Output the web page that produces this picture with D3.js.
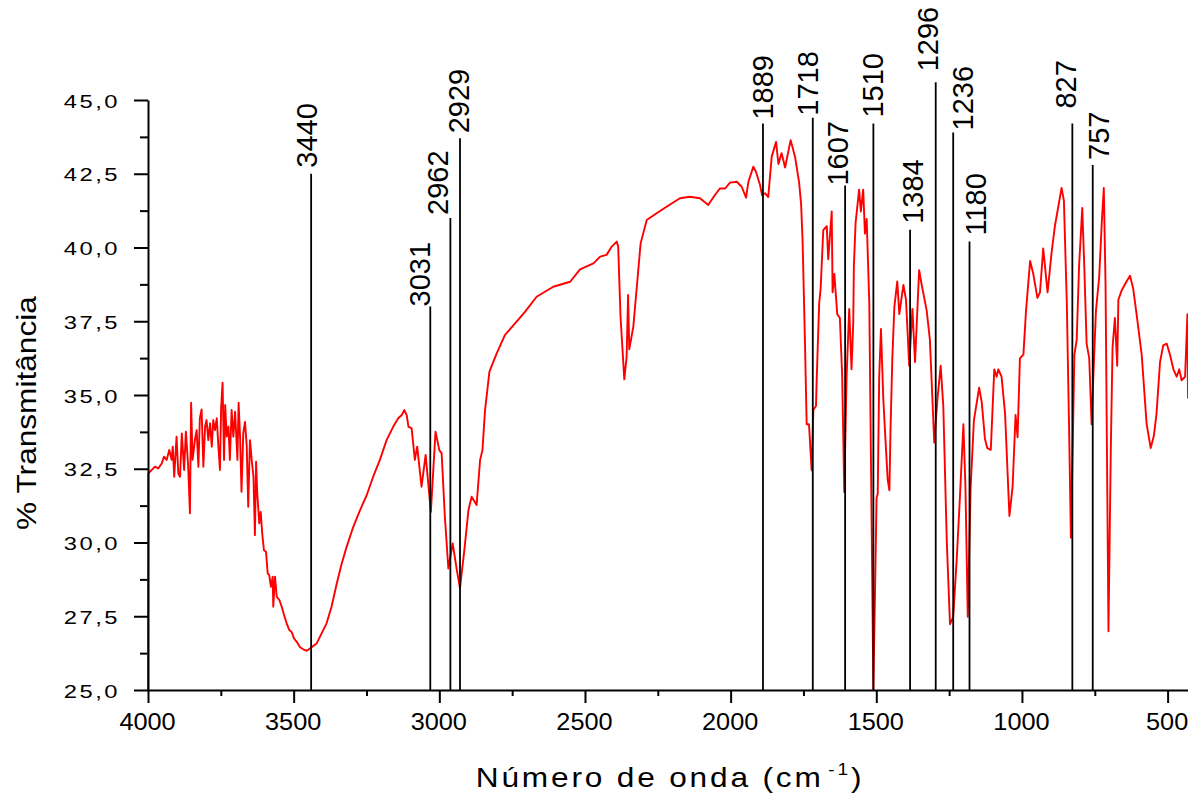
<!DOCTYPE html>
<html>
<head>
<meta charset="utf-8">
<script src="https://cdn.jsdelivr.net/npm/d3@7"></script>
<style>
  html, body { margin: 0; padding: 0; background: #fff; }
  svg { display: block; }
  text { font-family: "Liberation Sans", Arial, sans-serif; fill: #000; }
</style>
</head>
<body>
<svg id="chart" width="1188" height="794"></svg>
<script>
// FTIR spectrum: [wavenumber (cm-1), transmittance (%)]
const spectrum = [
  [4000, 25.0], [3999, 32.34], [3987, 32.46], [3976, 32.57], [3965, 32.51], [3953, 32.68],
  [3945, 32.91], [3936, 32.80], [3927, 33.14], [3919, 32.80], [3915, 33.25], [3910, 32.23],
  [3902, 33.59], [3896, 32.34], [3890, 32.23], [3884, 33.70], [3876, 32.46], [3870, 33.76],
  [3862, 32.57], [3856, 30.99], [3852, 34.74], [3847, 32.80], [3839, 33.47], [3833, 33.81],
  [3827, 32.57], [3822, 34.21], [3816, 34.51], [3810, 32.57], [3804, 33.93], [3799, 34.15],
  [3793, 33.47], [3787, 34.04], [3781, 33.25], [3776, 34.15], [3770, 33.81], [3764, 34.21],
  [3759, 33.36], [3753, 32.46], [3749, 34.55], [3744, 35.42], [3739, 32.80], [3735, 34.66],
  [3730, 33.59], [3724, 33.93], [3719, 32.80], [3713, 34.49], [3707, 33.59], [3701, 34.43],
  [3693, 32.80], [3689, 34.74], [3684, 33.59], [3679, 31.72], [3673, 33.70], [3667, 34.09],
  [3661, 33.25], [3656, 31.21], [3650, 33.47], [3644, 32.80], [3638, 32.23], [3633, 30.25],
  [3629, 32.74], [3625, 31.67], [3618, 30.65], [3613, 31.04], [3608, 30.31], [3602, 29.74],
  [3595, 29.69], [3589, 28.95], [3584, 28.90], [3578, 28.50], [3572, 28.84], [3570, 27.82],
  [3564, 28.84], [3558, 28.16], [3549, 28.05], [3541, 27.82], [3533, 27.54], [3524, 27.26],
  [3515, 27.03], [3507, 26.97], [3499, 26.75], [3490, 26.64], [3478, 26.45], [3467, 26.38],
  [3455, 26.33], [3444, 26.41], [3433, 26.49], [3421, 26.58], [3404, 26.92], [3387, 27.26],
  [3370, 27.82], [3352, 28.61], [3335, 29.29], [3318, 29.86], [3295, 30.54], [3272, 31.10],
  [3249, 31.61], [3227, 32.23], [3204, 32.80], [3181, 33.47], [3158, 33.93], [3141, 34.21],
  [3129, 34.32], [3120, 34.49], [3112, 34.32], [3106, 33.93], [3095, 33.87], [3084, 32.80],
  [3076, 33.25], [3061, 31.89], [3047, 32.97], [3029, 31.04], [3013, 33.76], [3000, 33.13],
  [2992, 33.02], [2981, 30.88], [2969, 29.12], [2954, 29.97], [2940, 29.07], [2929, 28.45],
  [2914, 29.75], [2900, 31.10], [2889, 31.55], [2872, 31.27], [2860, 32.80], [2852, 33.13],
  [2843, 34.49], [2828, 35.79], [2803, 36.41], [2775, 37.03], [2740, 37.43], [2706, 37.82],
  [2666, 38.33], [2609, 38.67], [2551, 38.84], [2517, 39.26], [2471, 39.46], [2448, 39.69],
  [2426, 39.75], [2408, 40.03], [2391, 40.20], [2386, 40.03], [2378, 37.66], [2365, 35.53],
  [2357, 36.30], [2352, 38.39], [2348, 36.55], [2334, 37.32], [2323, 38.56], [2309, 40.14],
  [2288, 40.93], [2254, 41.16], [2220, 41.38], [2174, 41.67], [2140, 41.72], [2105, 41.67],
  [2077, 41.44], [2054, 41.78], [2037, 42.00], [2019, 42.00], [2002, 42.20], [1979, 42.23],
  [1962, 42.06], [1947, 41.69], [1939, 42.23], [1922, 42.74], [1913, 42.57], [1899, 42.12],
  [1892, 41.77], [1882, 41.84], [1871, 41.71], [1859, 43.08], [1844, 43.58], [1836, 42.83],
  [1825, 43.20], [1813, 42.71], [1794, 43.64], [1779, 43.08], [1771, 42.58], [1765, 42.21],
  [1758, 41.46], [1753, 40.22], [1745, 36.86], [1739, 34.01], [1731, 34.01], [1722, 32.45],
  [1716, 34.50], [1707, 34.63], [1705, 35.37], [1701, 36.62], [1696, 38.11], [1691, 38.61],
  [1682, 40.59], [1670, 40.72], [1665, 39.60], [1653, 41.22], [1650, 38.48], [1644, 39.10],
  [1634, 37.74], [1625, 37.61], [1617, 35.62], [1610, 31.71], [1602, 35.62], [1593, 37.92],
  [1585, 35.87], [1579, 37.49], [1577, 39.35], [1571, 40.84], [1559, 41.96], [1553, 41.22],
  [1545, 41.96], [1539, 40.47], [1533, 40.97], [1524, 38.11], [1516, 30.65], [1510, 25.00],
  [1499, 31.52], [1495, 31.65], [1490, 35.62], [1484, 37.24], [1476, 34.88], [1470, 33.76],
  [1461, 32.14], [1455, 31.77], [1451, 33.88], [1445, 36.24], [1438, 37.98], [1428, 38.85],
  [1421, 37.74], [1407, 38.73], [1398, 38.23], [1387, 35.99], [1376, 37.92], [1367, 36.12],
  [1353, 39.23], [1344, 38.73], [1327, 37.86], [1316, 36.87], [1301, 33.39], [1290, 34.87],
  [1279, 35.99], [1270, 34.63], [1258, 30.03], [1247, 27.23], [1236, 27.48], [1224, 29.41],
  [1213, 31.52], [1201, 34.01], [1194, 31.90], [1186, 27.48], [1176, 31.90], [1165, 34.13],
  [1147, 35.25], [1138, 34.75], [1127, 33.51], [1119, 33.20], [1107, 33.14], [1095, 35.87],
  [1087, 35.62], [1081, 35.87], [1070, 35.62], [1058, 34.38], [1043, 30.90], [1032, 31.90],
  [1022, 34.32], [1015, 33.57], [1007, 36.24], [995, 36.37], [986, 37.86], [972, 39.54],
  [961, 39.10], [947, 38.29], [938, 38.48], [927, 39.97], [912, 38.48], [898, 39.85],
  [887, 40.72], [864, 42.02], [856, 41.59], [846, 38.11], [838, 33.76], [832, 30.16],
  [826, 33.14], [820, 36.37], [812, 36.87], [804, 39.35], [793, 41.34], [786, 39.35],
  [778, 36.74], [769, 36.24], [761, 34.01], [755, 35.62], [746, 37.86], [735, 38.98],
  [726, 40.84], [719, 42.02], [713, 38.73], [703, 26.99], [695, 33.14], [689, 36.62],
  [681, 37.61], [673, 35.99], [669, 38.23], [658, 38.54], [641, 38.85], [629, 39.04],
  [618, 38.60], [604, 37.55], [589, 36.37], [572, 34.01], [558, 33.20], [547, 33.63],
  [538, 34.38], [526, 36.12], [515, 36.68], [503, 36.74], [492, 36.37], [480, 35.87],
  [469, 35.62], [460, 35.87], [452, 35.50], [440, 35.62], [432, 37.74], [430, 34.88]
];

// Assigned bands and the transmittance reached by each marker line
const peakWavenumbers = [3440, 3031, 2962, 2929, 1889, 1718, 1607, 1510, 1384, 1296, 1236, 1180, 827, 757];
const peakLineTops    = [42.5, 38.0, 41.0, 43.7, 44.2, 44.4, 42.1, 44.2, 40.6, 45.6, 43.9, 40.2, 44.2, 42.8];

const xTickValues = [4000, 3500, 3000, 2500, 2000, 1500, 1000, 500];
const xMinorTicks = [3750, 3250, 2750, 2250, 1750, 1250, 750];
const yTickValues = [25, 27.5, 30, 32.5, 35, 37.5, 40, 42.5, 45];
const yMinorTicks = [26.25, 28.75, 31.25, 33.75, 36.25, 38.75, 41.25, 43.75];

const xLabel = "Número de onda (cm";
const yLabel = "% Transmitância";

// ---- layout ----
const svg = d3.select("#chart");
const plot = { left: 148, right: 1188, top: 100, bottom: 690 };

const x = d3.scaleLinear().domain([4000, 430]).range([plot.left, plot.right]);
const y = d3.scaleLinear().domain([25, 45]).range([plot.bottom, plot.top]);

const fmtY = v => d3.format(".1f")(v).replace(".", ",");

// minor ticks
svg.append("g")
  .attr("transform", `translate(0,${plot.bottom})`)
  .call(d3.axisBottom(x).tickValues(xMinorTicks).tickSize(6).tickSizeOuter(0).tickFormat(""))
  .call(g => g.select(".domain").remove())
  .call(g => g.selectAll("line").attr("stroke", "#000").attr("stroke-width", 2));

svg.append("g")
  .attr("transform", `translate(${plot.left},0)`)
  .call(d3.axisLeft(y).tickValues(yMinorTicks).tickSize(8).tickSizeOuter(0).tickFormat(""))
  .call(g => g.select(".domain").remove())
  .call(g => g.selectAll("line").attr("stroke", "#000").attr("stroke-width", 2));

// spectrum trace
const line = d3.line()
  .x(d => x(d[0]))
  .y(d => y(d[1]));

svg.append("path")
  .datum(spectrum)
  .attr("fill", "none")
  .attr("stroke", "#ff0000")
  .attr("stroke-width", 1.9)
  .attr("stroke-linejoin", "round")
  .attr("d", line);

// band marker lines with rotated labels (hand-placed nudges [dx, dy] in px)
const labelNudge = [
  [-5, -6], [-11, 0], [-13, -3], [-1, -5], [0, -4], [-5, -2], [-8, 0],
  [-1, -6], [3, -6], [-8, -11], [9, -2], [6, -6], [-7, -15], [6, -5]
];
const labelSize = 29;
const markers = svg.append("g");
peakWavenumbers.forEach((wn, i) => {
  const lx = x(wn);
  const top = y(peakLineTops[i]);
  markers.append("line")
    .attr("x1", lx).attr("x2", lx)
    .attr("y1", y(25)).attr("y2", top)
    .attr("stroke", "#000")
    .attr("stroke-width", 1.8);
  const [dx, dy] = labelNudge[i];
  markers.append("text")
    .attr("transform", `translate(${lx + dx + labelSize * 0.358},${top + dy}) rotate(-90)`)
    .attr("text-anchor", "start")
    .attr("font-size", labelSize)
    .text(wn);
});

// main axes
const xAxis = svg.append("g")
  .attr("transform", `translate(0,${plot.bottom})`)
  .call(d3.axisBottom(x).tickValues(xTickValues).tickSize(13).tickSizeOuter(0).tickFormat(d3.format("d")));
xAxis.select(".domain").attr("stroke", "#000").attr("stroke-width", 2);
xAxis.selectAll(".tick line").attr("stroke", "#000").attr("stroke-width", 2);
xAxis.selectAll(".tick text")
  .attr("y", 0).attr("dy", 0)
  .attr("transform", "translate(-1,40) scale(1.1,1)")
  .attr("font-size", 23)
  .attr("font-family", '"Liberation Sans", Arial, sans-serif')
  .attr("fill", "#000");

const yAxis = svg.append("g")
  .attr("transform", `translate(${plot.left},0)`)
  .call(d3.axisLeft(y).tickValues(yTickValues).tickSize(14).tickSizeOuter(0).tickFormat(fmtY));
yAxis.select(".domain").attr("stroke", "#000").attr("stroke-width", 2);
yAxis.selectAll(".tick line").attr("stroke", "#000").attr("stroke-width", 2);
yAxis.selectAll(".tick text")
  .attr("x", 0).attr("dy", 0)
  .attr("transform", "translate(-28,7) scale(1.25,1)")
  .attr("font-size", 19)
  .attr("letter-spacing", "2px")
  .attr("font-family", '"Liberation Sans", Arial, sans-serif')
  .attr("fill", "#000");

// axis titles
const xt = svg.append("text")
  .attr("transform", "translate(670,787) scale(1.13,1)")
  .attr("text-anchor", "middle")
  .attr("font-size", 28)
  .attr("letter-spacing", "2.5px");
xt.append("tspan").text(xLabel);
xt.append("tspan").attr("dy", -12).attr("font-size", 17).attr("dx", 4).text("-1");
xt.append("tspan").attr("dy", 12).text(")");

svg.append("text")
  .attr("transform", "translate(36,413) rotate(-90) scale(1.13,1)")
  .attr("text-anchor", "middle")
  .attr("font-size", 28)
  .text(yLabel);
</script>
</body>
</html>
